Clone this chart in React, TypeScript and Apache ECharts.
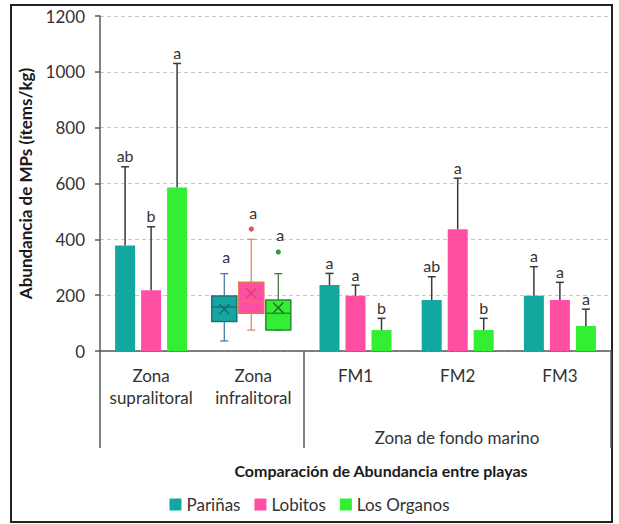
import React, { useEffect, useRef } from "react";
import * as echarts from "echarts";

const categories = ["Zona\nsupralitoral", "Zona\ninfralitoral", "FM1", "FM2", "FM3"];
const seriesNames = ["Pariñas", "Lobitos", "Los Organos"];
const yTicks = [0, 200, 400, 600, 800, 1000, 1200];

// bar means (infralitoral shown as box plots)
const meanParinas = [378, null, 236, 183, 198];
const meanLobitos = [218, null, 198, 436, 183];
const meanOrganos = [586, null, 75, 75, 90];
// upper end of error bars
const errParinas = [660, null, 278, 266, 302];
const errLobitos = [445, null, 236, 619, 246];
const errOrganos = [1030, null, 117, 117, 150];
// significance letters
const letterParinas = ["ab", "a", "a", "ab", "a"];
const letterLobitos = ["b", "a", "a", "a", "a"];
const letterOrganos = ["a", "a", "b", "b", "a"];

// box plots for Zona infralitoral: [min, q1, median, q3, max, mean]
const boxParinas = [36, 106, 158, 197, 277, 150];
const boxLobitos = [75, 135, 177, 246, 400, 207];
const boxOrganos = [75, 75, 135, 183, 277, 155];
const outliersParinas: number[] = [];
const outliersLobitos = [437];
const outliersOrganos = [355];

const FONT = "Lato, 'Open Sans', sans-serif";
const TEXT = "#333333";
const barColors = ["#12a8a0", "#ff4fa3", "#33ee33"];
const boxStyles = [
  { fill: "#12a8a0", border: "#1d6f7c", whisker: "#4a7ea8", mark: "#1d5f6c", outlier: "#1d6f7c" },
  { fill: "#ff4fa3", border: "#e5744f", whisker: "#e8895e", mark: "#d8406e", outlier: "#e0506a" },
  { fill: "#33ee33", border: "#2a8a36", whisker: "#3d7d46", mark: "#1d6a24", outlier: "#2aa03a" },
];

const BAR_W = 20;
const BAR_STEP = 26;
const BOX_W = 25;
const boxOffsets = [-29, -2, 25];

export default function App() {
  const ref = useRef<HTMLDivElement>(null);
  useEffect(() => {
    if (!ref.current) return;
    const chart = echarts.init(ref.current, null, { renderer: "svg" });
    const means = [meanParinas, meanLobitos, meanOrganos];
    const errs = [errParinas, errLobitos, errOrganos];
    const letters = [letterParinas, letterLobitos, letterOrganos];
    const boxes = [boxParinas, boxLobitos, boxOrganos];
    const outs = [outliersParinas, outliersLobitos, outliersOrganos];

    const barSeries = seriesNames.map((name, k) => ({
      name,
      type: "bar",
      barWidth: BAR_W,
      barGap: "30%",
      itemStyle: { color: barColors[k] },
      data: means[k].map((v) => (v == null ? "-" : v)),
      z: 2,
    }));

    const errSeries = seriesNames.map((name, k) => ({
      name: name + " error",
      type: "custom",
      z: 3,
      encode: { x: 0, y: [1, 2] },
      data: means[k]
        .map((v, i) => (v == null ? null : [i, v, errs[k][i] as number]))
        .filter((d) => d != null),
      renderItem: (params: any, api: any) => {
        const ci = api.value(0);
        const base = api.coord([ci, api.value(1)]);
        const top = api.coord([ci, api.value(2)]);
        const x = base[0] + (k - 1) * BAR_STEP;
        const stroke = { stroke: "#3a3a3a", lineWidth: 1.5 };
        return {
          type: "group",
          children: [
            { type: "line", shape: { x1: x, y1: base[1], x2: x, y2: top[1] }, style: stroke },
            { type: "line", shape: { x1: x - 4, y1: top[1], x2: x + 4, y2: top[1] }, style: stroke },
            {
              type: "text",
              x,
              y: top[1] - 3,
              style: {
                text: letters[k][ci],
                align: "center",
                verticalAlign: "bottom",
                fill: TEXT,
                font: `16px ${FONT}`,
              },
            },
          ],
        };
      },
    }));

    const boxSeries = seriesNames.map((name, k) => ({
      name: name + " box",
      type: "custom",
      z: 3,
      encode: { x: 0, y: [1, 5] },
      data: [[1, ...boxes[k]]],
      renderItem: (params: any, api: any) => {
        const ci = api.value(0);
        const st = boxStyles[k];
        const cx = api.coord([ci, 0])[0] + boxOffsets[k];
        const y = (v: number) => api.coord([ci, v])[1];
        const [mn, q1, md, q3, mx, mean] = [1, 2, 3, 4, 5, 6].map((j) => api.value(j));
        const hw = BOX_W / 2;
        const wStyle = { stroke: st.whisker, lineWidth: 1.3 };
        const children: any[] = [
          { type: "line", shape: { x1: cx, y1: y(mx), x2: cx, y2: y(q3) }, style: wStyle },
          { type: "line", shape: { x1: cx, y1: y(q1), x2: cx, y2: y(mn) }, style: wStyle },
          { type: "line", shape: { x1: cx - 4, y1: y(mx), x2: cx + 4, y2: y(mx) }, style: wStyle },
          { type: "line", shape: { x1: cx - 4, y1: y(mn), x2: cx + 4, y2: y(mn) }, style: wStyle },
          {
            type: "rect",
            shape: { x: cx - hw, y: y(q3), width: BOX_W, height: y(q1) - y(q3) },
            style: { fill: st.fill, stroke: st.border, lineWidth: 1.5 },
          },
          { type: "line", shape: { x1: cx - hw, y1: y(md), x2: cx + hw, y2: y(md) }, style: { stroke: st.border, lineWidth: 1.5 } },
          { type: "line", shape: { x1: cx - 5, y1: y(mean) - 5, x2: cx + 5, y2: y(mean) + 5 }, style: { stroke: st.mark, lineWidth: 1.3 } },
          { type: "line", shape: { x1: cx - 5, y1: y(mean) + 5, x2: cx + 5, y2: y(mean) - 5 }, style: { stroke: st.mark, lineWidth: 1.3 } },
        ];
        let topV = mx;
        outs[k].forEach((o) => {
          children.push({ type: "circle", shape: { cx, cy: y(o), r: 2.6 }, style: { fill: st.outlier } });
          topV = Math.max(topV, o);
        });
        children.push({
          type: "text",
          x: cx + 2,
          y: y(topV) - 9,
          style: { text: letters[k][ci], align: "center", verticalAlign: "bottom", fill: TEXT, font: `16px ${FONT}` },
        });
        return { type: "group", children };
      },
    }));

    const option: any = {
      animation: false,
      textStyle: { fontFamily: FONT },
      grid: { left: 100, right: 8, top: 16, bottom: 173, containLabel: false },
      legend: {
        data: seriesNames,
        bottom: 6,
        left: "center",
        icon: "rect",
        itemWidth: 12,
        itemHeight: 12,
        itemGap: 14,
        itemStyle: { borderWidth: 0 },
        textStyle: { fontSize: 17, color: TEXT, fontFamily: FONT },
      },
      xAxis: {
        type: "category",
        data: categories,
        axisLine: { show: true, lineStyle: { color: "#595959", width: 1.5 } },
        axisTick: { show: false },
        axisLabel: { interval: 0, fontSize: 17, lineHeight: 22, color: TEXT, margin: 13, fontFamily: FONT },
      },
      yAxis: {
        type: "value",
        min: yTicks[0],
        max: yTicks[yTicks.length - 1],
        interval: 200,
        name: "Abundancia de MPs (ítems/kg)",
        nameLocation: "middle",
        nameGap: 66,
        nameTextStyle: { fontSize: 17, fontWeight: "bold", color: "#1a1a1a", fontFamily: FONT },
        axisLine: { show: true, lineStyle: { color: "#595959", width: 1.5 } },
        axisTick: { show: true, length: 5, lineStyle: { color: "#595959", width: 1.5 } },
        axisLabel: { fontSize: 17, color: TEXT, margin: 15, fontFamily: FONT, formatter: (v: number) => String(v) },
        splitLine: { show: true, lineStyle: { color: "#c8c8c8", type: [4, 3], width: 1 } },
      },
      graphic: [
        { type: "rect", shape: { x: 11, y: 5, width: 601, height: 517 }, style: { fill: "none", stroke: "#222", lineWidth: 2 } },
        { type: "line", shape: { x1: 100, y1: 351, x2: 100, y2: 448 }, style: { stroke: "#595959", lineWidth: 1.5 } },
        { type: "line", shape: { x1: 304, y1: 351, x2: 304, y2: 448 }, style: { stroke: "#595959", lineWidth: 1.5 } },
        { type: "line", shape: { x1: 611, y1: 351, x2: 611, y2: 448 }, style: { stroke: "#595959", lineWidth: 1.5 } },
        { type: "text", x: 457, y: 437, style: { text: "Zona de fondo marino", align: "center", verticalAlign: "middle", fill: TEXT, font: `17px ${FONT}` } },
        { type: "text", x: 381, y: 470, style: { text: "Comparación de Abundancia entre playas", align: "center", verticalAlign: "middle", fill: "#1a1a1a", font: `bold 16px ${FONT}` } },
      ],
      series: [...barSeries, ...errSeries, ...boxSeries],
    };
    chart.setOption(option);
    return () => chart.dispose();
  }, []);
  return <div ref={ref} style={{ position: "fixed", left: 0, top: 0, width: 619, height: 524, background: "#fff" }} />;
}
